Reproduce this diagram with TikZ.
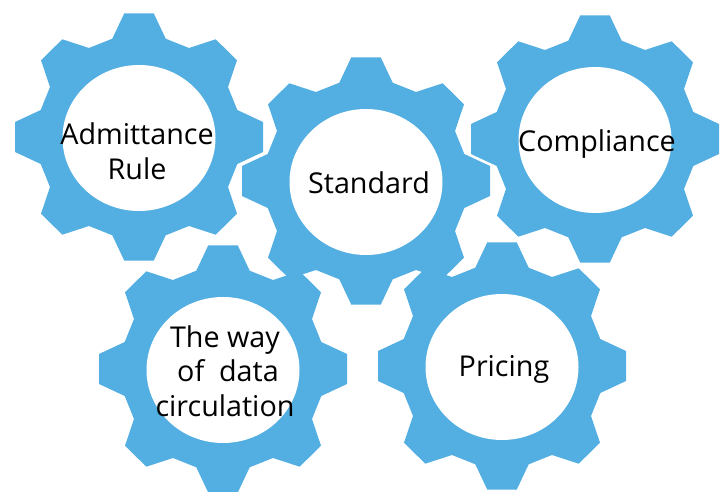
\documentclass[tikz,border=0pt]{standalone}
\usepackage{fontspec}
\setmainfont{Open Sans}
\usetikzlibrary{shapes.geometric}
\definecolor{gearblue}{RGB}{83,174,226}
\tikzset{
  gearbody/.style={fill=gearblue},
  gearhole/.style={fill=white,ellipse,minimum width=153pt,minimum height=146pt,inner sep=0pt,yshift=-1pt},
  gearlabel/.style={inner sep=0pt,align=center,font=\fontsize{28.7}{34.5}\selectfont},
}
% one gear wheel, points in pixels round its centre
\newcommand{\gearwheel}[2]{
  \fill[gearbody,shift={(#1)}] (-14.7,123.7) -- (14.7,123.7) -- (26.7,98.3) -- (50,89) -- (76.7,97.7)
    -- (98,76.7) -- (89,50) -- (98.3,27) -- (124,15) -- (124,-15) -- (98.3,-27) -- (89,-50)
    -- (98,-76.7) -- (76.7,-97.7) -- (50,-89) -- (26.7,-98.3) -- (14.7,-123.7) -- (-14.7,-123.7)
    -- (-26.7,-98.3) -- (-50,-89) -- (-76.7,-97.7) -- (-98,-76.7) -- (-89,-50) -- (-98.3,-27)
    -- (-124,-15) -- (-124,15) -- (-98.3,27) -- (-89,50) -- (-98,76.7) -- (-76.7,97.7)
    -- (-50,89) -- (-26.7,98.3) -- cycle;
  \node[gearhole] (#2) at (#1) {};
}

\begin{document}
\begin{tikzpicture}[x=1pt,y=1pt]

  \useasboundingbox (0,0) rectangle (720,492);

  \gearwheel{139,355}{admittance}
  \node[gearlabel] (admittancetext) at (137,341) {Admittance\\Rule};

  \gearwheel{595,353}{compliance}
  \node[gearlabel] (compliancetext) at (597,348) {Compliance};

  \gearwheel{366,311}{standard}
  \node[gearlabel] (standardtext) at (369,309) {Standard};

  \gearwheel{223,123}{circulation}
  \node[gearlabel] (circulationtext) at (225,121) {The way\\ \hspace*{6pt}of\ \ data\\circulation};

  \gearwheel{502,126}{pricing}
  \node[gearlabel] (pricingtext) at (504,123) {Pricing};

\end{tikzpicture}
\end{document}
